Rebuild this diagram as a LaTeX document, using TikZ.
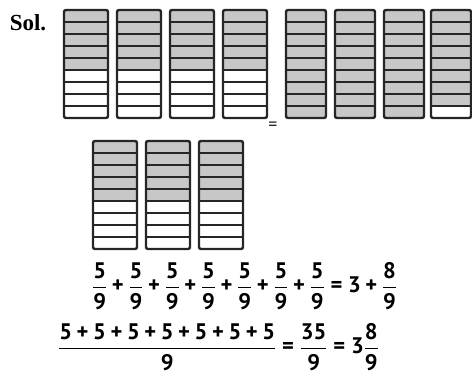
\documentclass[tikz,border=0pt]{standalone}
\usepackage{amsmath}
\usepackage{fontspec}
\setmainfont{Liberation Serif}
\newfontfamily\numfont{PT Sans}
\usetikzlibrary{positioning}
\tikzset{
  cellline/.style={line width=2.4pt,draw=black!85},
  shadecell/.style={fill=black!22},
  solmark/.style={font=\fontsize{23}{25}\selectfont\bfseries,inner sep=0pt},
  eqline/.style={font=\fontsize{22.5}{24}\selectfont\numfont\bfseries,inner sep=0pt},
}
% one bar of nine cells: left x, top y, width, shaded cells
\newcommand{\fracbar}[4]{%
  \fill[shadecell] (#1,#2) rectangle ++(#3,{#4*12});
  \foreach \k in {1,...,8} {\draw[cellline] (#1,{#2+\k*12}) -- ++(#3,0);}
  \draw[cellline,rounded corners=2pt] (#1,#2) rectangle ++(#3,108);
}
\newcommand{\nf}[2]{\genfrac{}{}{1.6pt}{0}{\text{#1}}{\text{#2}}}
\newcommand{\pl}{\mathbin{\text{+}}}
\newcommand{\eq}{\mathrel{\text{=}}}

\begin{document}
\begin{tikzpicture}[x=1pt,y=-1pt]
  \useasboundingbox (0,0) rectangle (472,379);

  \node[solmark] (sol) at (28,23) {Sol.};

  % first row: seven fifths-of-nine on the left, three wholes and eight ninths on the right
  \foreach \bx in {64,117,170,223} {\fracbar{\bx}{10}{44}{5}}
  \foreach \bx/\bs in {286/9,335/9,384/9,431/8} {\fracbar{\bx}{10}{40}{\bs}}
  \node[font=\fontsize{16}{16}\selectfont\bfseries] (eqsign) at (273,126) {=};

  % second row
  \foreach \bx in {93,146,199} {\fracbar{\bx}{141}{44}{5}}

  % sums
  \node[eqline,anchor=west] (sumrow) at (92,286)
    {$\nf59\pl\nf59\pl\nf59\pl\nf59\pl\nf59\pl\nf59\pl\nf59\eq\text{3}\pl\nf89$};
  \node[eqline,anchor=west] (totalrow) at (58,347)
    {$\genfrac{}{}{1.6pt}{0}{\text{5}\pl\text{5}\pl\text{5}\pl\text{5}\pl\text{5}\pl\text{5}\pl\text{5}}{\text{9}}\eq\nf{35}{9}\eq\text{3}\nf89$};
\end{tikzpicture}
\end{document}
